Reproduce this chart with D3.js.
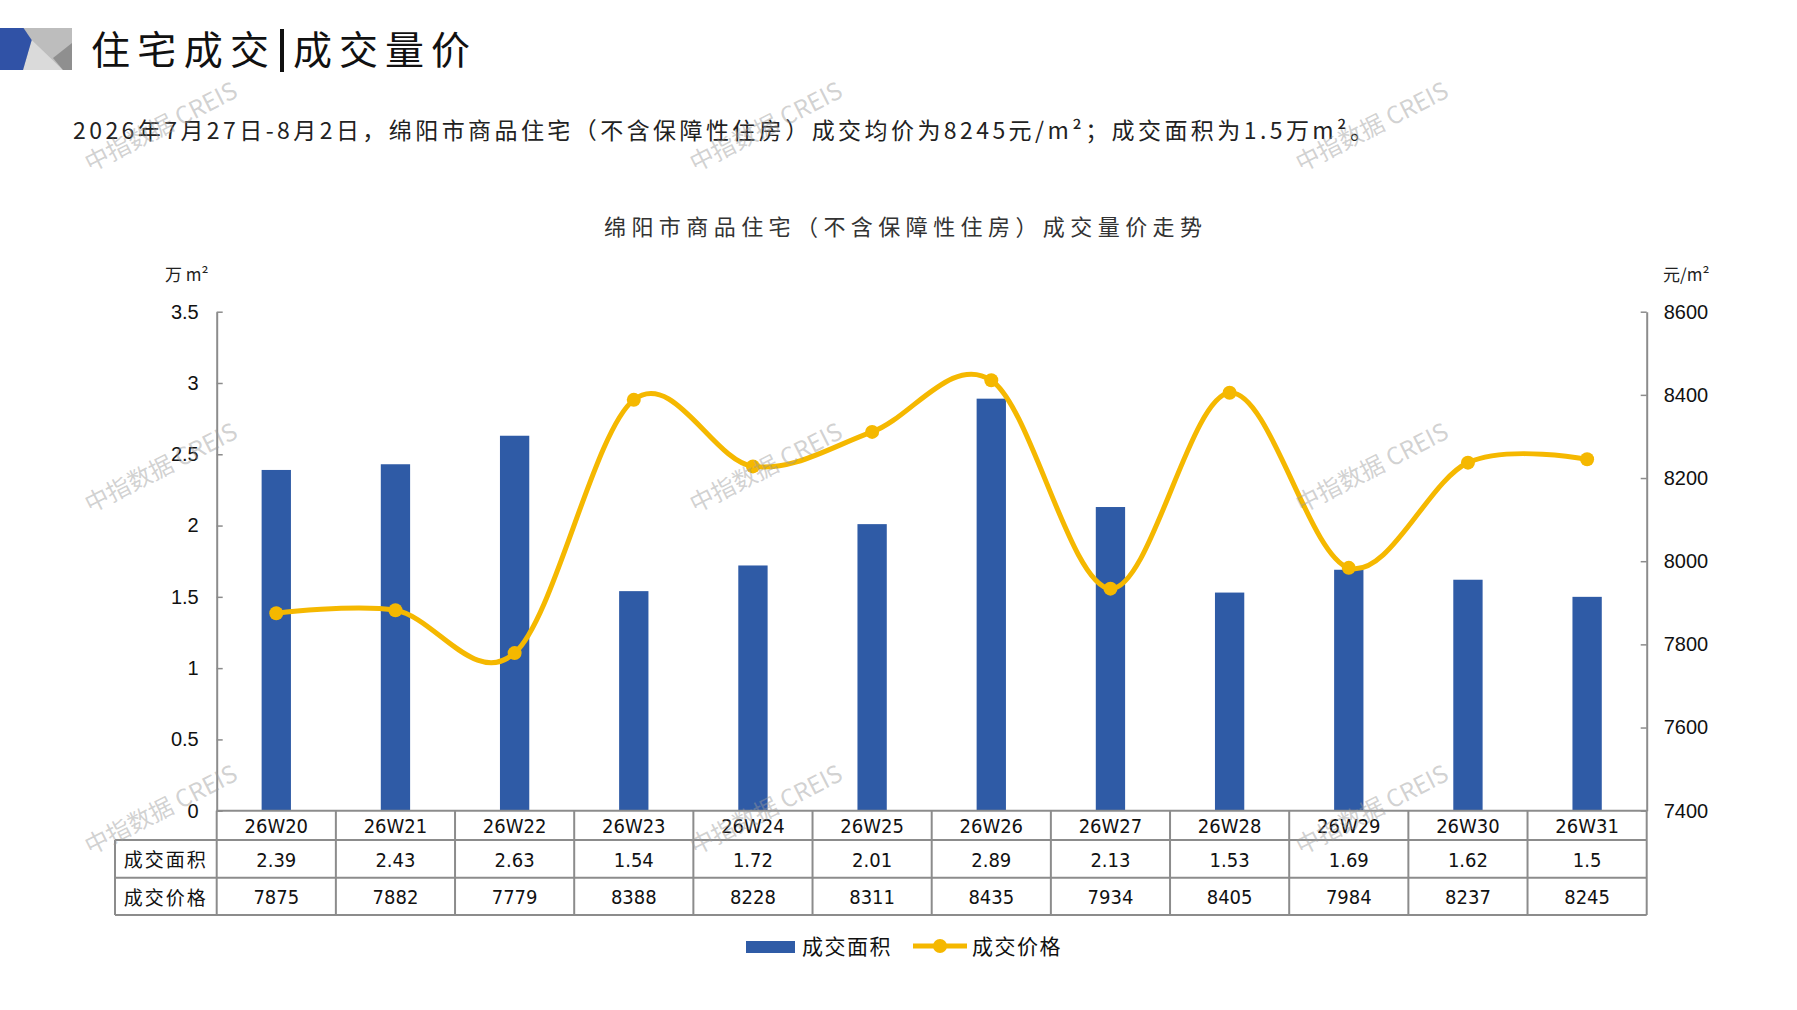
<!DOCTYPE html>
<html>
<head>
<meta charset="utf-8">
<script src="https://cdn.jsdelivr.net/npm/d3@7"></script>
<style>
  body { margin: 0; background: #fff; }
  svg { display: block; font-family: "Noto Sans CJK SC", sans-serif; }
  .num { font-family: "Liberation Sans Narrow", "DejaVu Sans Condensed", "Noto Sans CJK SC", sans-serif; }
</style>
</head>
<body>
<div id="chart"></div>
<script>
// weekly data, 绵阳市商品住宅
const weeks = ['26W20', '26W21', '26W22', '26W23', '26W24', '26W25', '26W26', '26W27', '26W28', '26W29', '26W30', '26W31'];
const areas = [2.39, 2.43, 2.63, 1.54, 1.72, 2.01, 2.89, 2.13, 1.53, 1.69, 1.62, 1.5];
const prices = [7875, 7882, 7779, 8388, 8228, 8311, 8435, 7934, 8405, 7984, 8237, 8245];
const areaTicks = [0, 0.5, 1, 1.5, 2, 2.5, 3, 3.5];
const priceTicks = [7400, 7600, 7800, 8000, 8200, 8400, 8600];
const seriesNames = ['成交面积', '成交价格'];

const W = 1797, H = 1010;
const barColor = '#2F5BA6';
const lineColor = '#F5B800';
const gridColor = '#8C8C8C';

const svg = d3.select('#chart').append('svg')
  .attr('width', W)
  .attr('height', H);

// header logo
svg.append('rect').attr('x', 23).attr('y', 28).attr('width', 49).attr('height', 42).attr('fill', '#BDBDBD');
svg.append('polygon').attr('points', '31.7,40 23,70 63,70').attr('fill', '#DADADA');
svg.append('polygon').attr('points', '72,43 53,58 63,70 72,70').attr('fill', '#8F8F8F');
svg.append('polygon').attr('points', '0,28 23.5,28 31.7,40 23,70 0,70').attr('fill', '#3052A6');

// title
svg.append('text').attr('x', 91).attr('y', 64)
  .attr('font-size', 39).attr('fill', '#111')
  .attr('textLength', 178).attr('lengthAdjust', 'spacing')
  .text('住宅成交');
svg.append('rect').attr('x', 280).attr('y', 29).attr('width', 4).attr('height', 43).attr('fill', '#111');
svg.append('text').attr('x', 293).attr('y', 64)
  .attr('font-size', 39).attr('fill', '#111')
  .attr('textLength', 177).attr('lengthAdjust', 'spacing')
  .text('成交量价');

// summary line
svg.append('text').attr('x', 73).attr('y', 139)
  .attr('font-size', 23).attr('fill', '#222')
  .attr('textLength', 1300).attr('lengthAdjust', 'spacing')
  .text('2026年7月27日-8月2日，绵阳市商品住宅（不含保障性住房）成交均价为8245元/m²；成交面积为1.5万m²。');

// chart title
svg.append('text').attr('x', 604).attr('y', 235)
  .attr('font-size', 22).attr('fill', '#333')
  .attr('textLength', 598).attr('lengthAdjust', 'spacing')
  .text('绵阳市商品住宅（不含保障性住房）成交量价走势');

// scales
const x = d3.scaleBand().domain(weeks).range([216.7, 1646.7]).padding(0);
const yL = d3.scaleLinear().domain([0, 3.5]).range([810.7, 311.7]);
const yR = d3.scaleLinear().domain([7400, 8600]).range([810.7, 311.7]);
const bw = x.bandwidth();
const barW = bw * 0.246;

// unit labels
svg.append('text').attr('x', 165).attr('y', 281).attr('font-size', 17).attr('fill', '#222').text('万 m²');
svg.append('text').attr('x', 1663).attr('y', 281).attr('font-size', 17).attr('fill', '#222').text('元/m²');

// axes
const axL = svg.append('g')
  .attr('transform', 'translate(216.7,0)')
  .call(d3.axisLeft(yL).tickValues(areaTicks).tickFormat(d => d)
    .tickSizeInner(-6).tickSizeOuter(0).tickPadding(18));
const axR = svg.append('g')
  .attr('transform', 'translate(1646.7,0)')
  .call(d3.axisRight(yR).tickValues(priceTicks).tickFormat(d => d)
    .tickSizeInner(-6).tickSizeOuter(0).tickPadding(17));
[axL, axR].forEach(ax => {
  ax.select('.domain').attr('stroke', gridColor).attr('stroke-width', 2);
  ax.selectAll('.tick line').attr('stroke', gridColor).attr('stroke-width', 1.5);
  ax.selectAll('.tick text').attr('font-size', 20).attr('fill', '#111')
    .attr('font-family', 'Liberation Sans, Arial, sans-serif');
});

// bars
svg.append('g').selectAll('rect')
  .data(areas)
  .enter()
  .append('rect')
    .attr('x', (d, i) => x(weeks[i]) + (bw - barW) / 2)
    .attr('y', d => yL(d))
    .attr('width', barW)
    .attr('height', d => yL(0) - yL(d))
    .attr('fill', barColor);

// price line
const line = d3.line()
  .x((d, i) => x(weeks[i]) + bw / 2)
  .y(d => yR(d))
  .curve(d3.curveCardinal.tension(0));

svg.append('path')
  .datum(prices)
  .attr('d', line)
  .attr('fill', 'none')
  .attr('stroke', lineColor)
  .attr('stroke-width', 5);

svg.append('g').selectAll('circle')
  .data(prices)
  .enter()
  .append('circle')
    .attr('cx', (d, i) => x(weeks[i]) + bw / 2)
    .attr('cy', d => yR(d))
    .attr('r', 7)
    .attr('fill', lineColor);

// data table under the axis
const rowY = [810.7, 840, 877.7, 915];
const tableLeft = 115;
const xEnd = x.range()[1];
const table = svg.append('g');

// horizontal rules
table.append('line').attr('x1', x.range()[0]).attr('x2', xEnd).attr('y1', rowY[0]).attr('y2', rowY[0]);
[1, 2, 3].forEach(r => {
  table.append('line').attr('x1', tableLeft).attr('x2', xEnd).attr('y1', rowY[r]).attr('y2', rowY[r]);
});
// vertical rules
table.append('line').attr('x1', tableLeft).attr('x2', tableLeft).attr('y1', rowY[1]).attr('y2', rowY[3]);
weeks.forEach(w => {
  table.append('line').attr('x1', x(w)).attr('x2', x(w)).attr('y1', rowY[0]).attr('y2', rowY[3]);
});
table.append('line').attr('x1', xEnd).attr('x2', xEnd).attr('y1', rowY[0]).attr('y2', rowY[3]);
table.selectAll('line').attr('stroke', gridColor).attr('stroke-width', 2);

const cellText = (cx, cy, txt, cls) => table.append('text')
  .attr('class', cls)
  .attr('x', cx).attr('y', cy)
  .attr('text-anchor', 'middle')
  .attr('dominant-baseline', 'central')
  .attr('font-size', 20)
  .attr('fill', '#111')
  .text(txt);

weeks.forEach((w, i) => {
  const cx = x(w) + bw / 2;
  cellText(cx, (rowY[0] + rowY[1]) / 2 + 1, w, 'num');
  cellText(cx, (rowY[1] + rowY[2]) / 2 + 1, areas[i], 'num');
  cellText(cx, (rowY[2] + rowY[3]) / 2 + 1, prices[i], 'num');
});
cellText((tableLeft + x.range()[0]) / 2, (rowY[1] + rowY[2]) / 2, seriesNames[0], '')
  .attr('font-size', 19).attr('letter-spacing', 2);
cellText((tableLeft + x.range()[0]) / 2, (rowY[2] + rowY[3]) / 2, seriesNames[1], '')
  .attr('font-size', 19).attr('letter-spacing', 2);

// legend
const legend = svg.append('g');
legend.append('rect').attr('x', 746).attr('y', 941).attr('width', 49).attr('height', 12).attr('fill', barColor);
legend.append('text').attr('x', 802).attr('y', 954).attr('font-size', 21).attr('fill', '#111')
  .attr('letter-spacing', 1.5).text(seriesNames[0]);
legend.append('line').attr('x1', 913).attr('x2', 967).attr('y1', 946).attr('y2', 946)
  .attr('stroke', lineColor).attr('stroke-width', 5);
legend.append('circle').attr('cx', 940).attr('cy', 946).attr('r', 7).attr('fill', lineColor);
legend.append('text').attr('x', 972).attr('y', 954).attr('font-size', 21).attr('fill', '#111')
  .attr('letter-spacing', 1.5).text(seriesNames[1]);

// watermark
const marks = [[160, 125], [765, 125], [1371, 125], [160, 466], [765, 466], [1371, 466], [160, 808], [765, 808], [1371, 808]];
svg.append('g').selectAll('text')
  .data(marks)
  .enter()
  .append('text')
    .attr('transform', d => 'translate(' + d[0] + ',' + d[1] + ') rotate(-27)')
    .attr('text-anchor', 'middle')
    .attr('dominant-baseline', 'central')
    .attr('font-size', 24)
    .attr('fill', '#9a9a9a')
    .attr('fill-opacity', 0.45)
    .text('中指数据 CREIS');
</script>
</body>
</html>
